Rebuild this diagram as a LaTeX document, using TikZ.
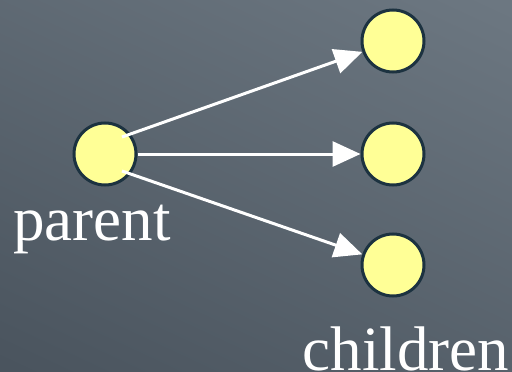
\documentclass[tikz,border=0pt]{standalone}
\usepackage{fontspec}
\setmainfont{Liberation Serif}
\usetikzlibrary{arrows.meta}
\definecolor{bglight}{RGB}{108,119,129}
\definecolor{bgdark}{RGB}{74,84,94}
\definecolor{nodefill}{RGB}{255,255,150}
\definecolor{nodeedge}{RGB}{28,50,64}
\tikzset{
  dot/.style={circle, minimum size=62pt, inner sep=0pt, draw=nodeedge, line width=3pt, fill=nodefill},
  link/.style={draw=white, line width=3pt, -{Triangle[length=28pt,width=25pt]}},
  lab/.style={text=white, font=\fontsize{63}{63}\selectfont, anchor=base, inner sep=0pt}
}
\begin{document}
\begin{tikzpicture}[x=1pt,y=-1pt]
\useasboundingbox (0,0) rectangle (512,372);
\shade[top color=bglight, bottom color=bgdark, shading angle=-25] (-60,-60) rectangle (572,432);
\node[dot] (p) at (105,154) {};
\node[dot] (c1) at (393,41) {};
\node[dot] (c2) at (393,154) {};
\node[dot] (c3) at (393,265) {};
\coordinate (s1) at (122,137);
\coordinate (s3) at (122,171);
\draw[link] (s1) -- (c1);
\draw[link] (p) -- (c2);
\draw[link] (s3) -- (c3);
\node[lab] (tp) at (92,240) {parent};
\node[lab] (tc) at (406,370) {children};
\end{tikzpicture}
\end{document}
